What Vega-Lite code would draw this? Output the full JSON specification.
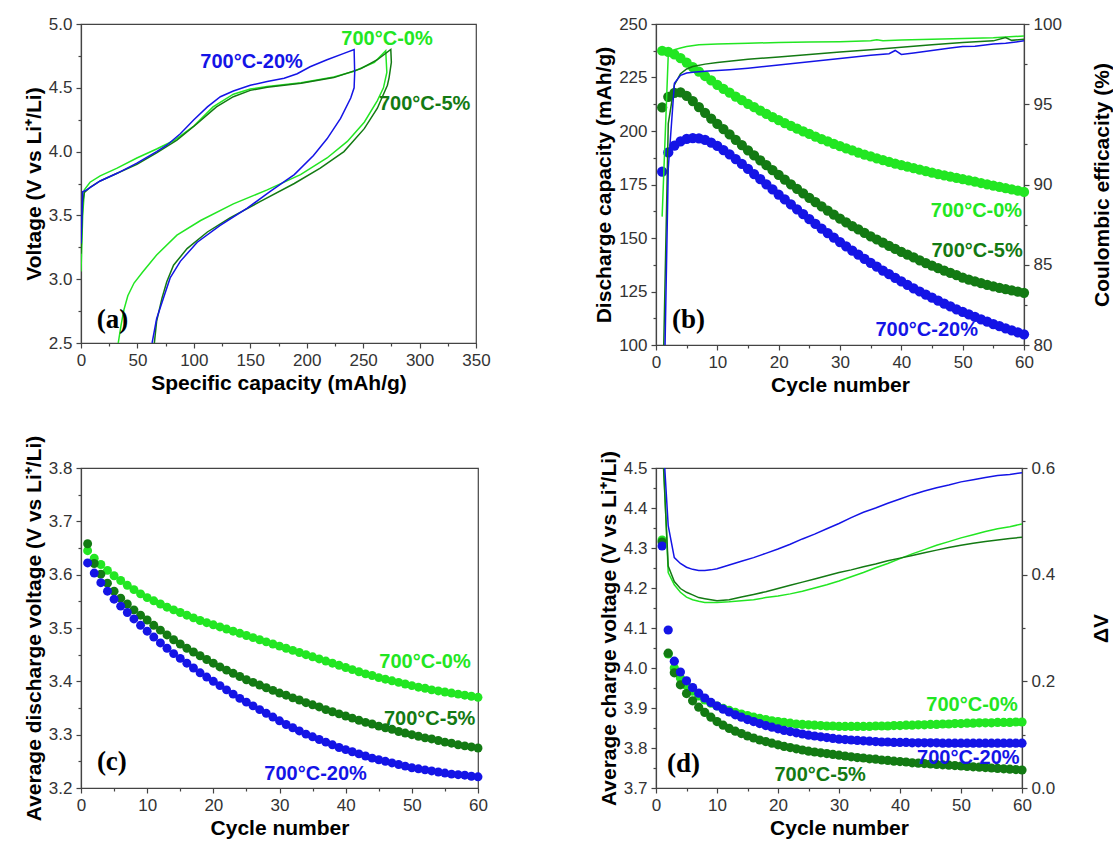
{
"$schema": "https://vega.github.io/schema/vega-lite/v6.json",
"padding": {"left": 22, "top": 14, "right": 0, "bottom": 0},
"background": "white",
"config": {
 "font": "Liberation Sans",
 "view": {"stroke": "#444", "strokeWidth": 1.2},
 "axis": {"grid": false, "domainColor": "#444", "domainWidth": 1.2, "tickColor": "#444", "tickWidth": 1.2, "tickSize": 5, "labelFont": "Liberation Sans", "labelFontSize": 17, "labelColor": "#333", "labelPadding": 4, "labelFlush": false, "labelOverlap": false, "labelBound": false, "titleFont": "Liberation Sans", "titleFontSize": 21, "titleFontWeight": "bold", "titleColor": "#000", "titlePadding": 4},
 "text": {"font": "Liberation Sans", "fontWeight": "bold", "fontSize": 20}
},
"datasets": {
 "a": [
  {"s":"0","i":0,"cap":0,"v":3.06},{"s":"0","i":1,"cap":1.5,"v":3.5},{"s":"0","i":2,"cap":3,"v":3.70},{"s":"0","i":3,"cap":8,"v":3.76},{"s":"0","i":4,"cap":17,"v":3.81},{"s":"0","i":5,"cap":32,"v":3.87},{"s":"0","i":6,"cap":49.5,"v":3.95},{"s":"0","i":7,"cap":67,"v":4.02},{"s":"0","i":8,"cap":82,"v":4.085},{"s":"0","i":9,"cap":100,"v":4.20},{"s":"0","i":10,"cap":117,"v":4.35},{"s":"0","i":11,"cap":135,"v":4.45},{"s":"0","i":12,"cap":150,"v":4.49},{"s":"0","i":13,"cap":165,"v":4.51},{"s":"0","i":14,"cap":195,"v":4.54},{"s":"0","i":15,"cap":224,"v":4.585},{"s":"0","i":16,"cap":242,"v":4.63},{"s":"0","i":17,"cap":260,"v":4.70},{"s":"0","i":18,"cap":270,"v":4.79},
  {"s":"0","i":19,"cap":271,"v":4.62},{"s":"0","i":20,"cap":268,"v":4.50},{"s":"0","i":21,"cap":262.6,"v":4.40},{"s":"0","i":22,"cap":251,"v":4.23},{"s":"0","i":23,"cap":236,"v":4.08},{"s":"0","i":24,"cap":218,"v":3.95},{"s":"0","i":25,"cap":194.5,"v":3.82},{"s":"0","i":26,"cap":165,"v":3.70},{"s":"0","i":27,"cap":135,"v":3.59},{"s":"0","i":28,"cap":106,"v":3.46},{"s":"0","i":29,"cap":85,"v":3.345},{"s":"0","i":30,"cap":67,"v":3.19},{"s":"0","i":31,"cap":55,"v":3.06},{"s":"0","i":32,"cap":47,"v":2.97},{"s":"0","i":33,"cap":41.5,"v":2.87},{"s":"0","i":34,"cap":38,"v":2.76},{"s":"0","i":35,"cap":35.5,"v":2.64},{"s":"0","i":36,"cap":33,"v":2.5},
  {"s":"5","i":0,"cap":0,"v":3.2},{"s":"5","i":1,"cap":1.5,"v":3.6},{"s":"5","i":2,"cap":3,"v":3.68},{"s":"5","i":3,"cap":8,"v":3.72},{"s":"5","i":4,"cap":17,"v":3.77},{"s":"5","i":5,"cap":32,"v":3.83},{"s":"5","i":6,"cap":49.5,"v":3.90},{"s":"5","i":7,"cap":67,"v":3.99},{"s":"5","i":8,"cap":85,"v":4.09},{"s":"5","i":9,"cap":103,"v":4.22},{"s":"5","i":10,"cap":120,"v":4.35},{"s":"5","i":11,"cap":135,"v":4.43},{"s":"5","i":12,"cap":150,"v":4.48},{"s":"5","i":13,"cap":165,"v":4.505},{"s":"5","i":14,"cap":195,"v":4.535},{"s":"5","i":15,"cap":224,"v":4.58},{"s":"5","i":16,"cap":248,"v":4.65},{"s":"5","i":17,"cap":262.6,"v":4.72},{"s":"5","i":18,"cap":274.5,"v":4.80},
  {"s":"5","i":19,"cap":275,"v":4.70},{"s":"5","i":20,"cap":273,"v":4.58},{"s":"5","i":21,"cap":271.5,"v":4.52},{"s":"5","i":22,"cap":262.6,"v":4.34},{"s":"5","i":23,"cap":251,"v":4.18},{"s":"5","i":24,"cap":233,"v":4.0},{"s":"5","i":25,"cap":212,"v":3.87},{"s":"5","i":26,"cap":189,"v":3.75},{"s":"5","i":27,"cap":159,"v":3.61},{"s":"5","i":28,"cap":132,"v":3.48},{"s":"5","i":29,"cap":112,"v":3.37},{"s":"5","i":30,"cap":94,"v":3.24},{"s":"5","i":31,"cap":82,"v":3.11},{"s":"5","i":32,"cap":76,"v":2.98},{"s":"5","i":33,"cap":71.7,"v":2.85},{"s":"5","i":34,"cap":67,"v":2.67},{"s":"5","i":35,"cap":65,"v":2.5},
  {"s":"20","i":0,"cap":0,"v":3.28},{"s":"20","i":1,"cap":1.5,"v":3.685},{"s":"20","i":2,"cap":5,"v":3.70},{"s":"20","i":3,"cap":17,"v":3.77},{"s":"20","i":4,"cap":32,"v":3.83},{"s":"20","i":5,"cap":49.5,"v":3.91},{"s":"20","i":6,"cap":67,"v":4.0},{"s":"20","i":7,"cap":76,"v":4.05},{"s":"20","i":8,"cap":88,"v":4.14},{"s":"20","i":9,"cap":100,"v":4.25},{"s":"20","i":10,"cap":112,"v":4.35},{"s":"20","i":11,"cap":123.5,"v":4.43},{"s":"20","i":12,"cap":135,"v":4.475},{"s":"20","i":13,"cap":150,"v":4.52},{"s":"20","i":14,"cap":165,"v":4.55},{"s":"20","i":15,"cap":180,"v":4.575},{"s":"20","i":16,"cap":191.6,"v":4.61},{"s":"20","i":17,"cap":203,"v":4.665},{"s":"20","i":18,"cap":218,"v":4.72},{"s":"20","i":19,"cap":233,"v":4.77},{"s":"20","i":20,"cap":242,"v":4.80},
  {"s":"20","i":21,"cap":242.5,"v":4.62},{"s":"20","i":22,"cap":242,"v":4.50},{"s":"20","i":23,"cap":239,"v":4.42},{"s":"20","i":24,"cap":230,"v":4.26},{"s":"20","i":25,"cap":218,"v":4.10},{"s":"20","i":26,"cap":206,"v":3.97},{"s":"20","i":27,"cap":189,"v":3.82},{"s":"20","i":28,"cap":168,"v":3.69},{"s":"20","i":29,"cap":147,"v":3.555},{"s":"20","i":30,"cap":123,"v":3.42},{"s":"20","i":31,"cap":103,"v":3.29},{"s":"20","i":32,"cap":88,"v":3.14},{"s":"20","i":33,"cap":79,"v":3.01},{"s":"20","i":34,"cap":73,"v":2.85},{"s":"20","i":35,"cap":67,"v":2.69},{"s":"20","i":36,"cap":63,"v":2.5}
 ],
 "annA": [{"s":"20","t":"700°C-20%","cap":105.7,"v":4.70},{"s":"0","t":"700°C-0%","cap":230.7,"v":4.88},{"s":"5","t":"700°C-5%","cap":264,"v":4.37}],
 "letA": [{"t":"(a)","cap":14,"v":2.68}],
 "b": [
  {"s":"0","c":1,"cap":237.5},{"s":"0","c":2,"cap":237},{"s":"0","c":3,"cap":235.8},{"s":"0","c":4,"cap":234},{"s":"0","c":5,"cap":232},{"s":"0","c":6,"cap":229.9},{"s":"0","c":7,"cap":227.8},{"s":"0","c":8,"cap":225.7},{"s":"0","c":9,"cap":223.6},{"s":"0","c":10,"cap":221.6},
  {"s":"0","c":11,"cap":219.7},{"s":"0","c":12,"cap":217.9},{"s":"0","c":13,"cap":216.1},{"s":"0","c":14,"cap":214.4},{"s":"0","c":15,"cap":212.7},{"s":"0","c":16,"cap":211.1},{"s":"0","c":17,"cap":209.5},{"s":"0","c":18,"cap":208},{"s":"0","c":19,"cap":206.5},{"s":"0","c":20,"cap":205.1},
  {"s":"0","c":21,"cap":203.7},{"s":"0","c":22,"cap":202.4},{"s":"0","c":23,"cap":201.1},{"s":"0","c":24,"cap":199.8},{"s":"0","c":25,"cap":198.6},{"s":"0","c":26,"cap":197.4},{"s":"0","c":27,"cap":196.2},{"s":"0","c":28,"cap":195.1},{"s":"0","c":29,"cap":194},{"s":"0","c":30,"cap":192.9},
  {"s":"0","c":31,"cap":191.9},{"s":"0","c":32,"cap":190.9},{"s":"0","c":33,"cap":189.9},{"s":"0","c":34,"cap":189},{"s":"0","c":35,"cap":188.1},{"s":"0","c":36,"cap":187.2},{"s":"0","c":37,"cap":186.4},{"s":"0","c":38,"cap":185.6},{"s":"0","c":39,"cap":184.8},{"s":"0","c":40,"cap":184},
  {"s":"0","c":41,"cap":183.3},{"s":"0","c":42,"cap":182.6},{"s":"0","c":43,"cap":181.9},{"s":"0","c":44,"cap":181.2},{"s":"0","c":45,"cap":180.5},{"s":"0","c":46,"cap":179.9},{"s":"0","c":47,"cap":179.3},{"s":"0","c":48,"cap":178.7},{"s":"0","c":49,"cap":178.1},{"s":"0","c":50,"cap":177.5},
  {"s":"0","c":51,"cap":176.9},{"s":"0","c":52,"cap":176.3},{"s":"0","c":53,"cap":175.7},{"s":"0","c":54,"cap":175.1},{"s":"0","c":55,"cap":174.5},{"s":"0","c":56,"cap":173.9},{"s":"0","c":57,"cap":173.3},{"s":"0","c":58,"cap":172.7},{"s":"0","c":59,"cap":172.1},{"s":"0","c":60,"cap":171.5},
  {"s":"5","c":1,"cap":211},{"s":"5","c":2,"cap":216},{"s":"5","c":3,"cap":217.8},{"s":"5","c":4,"cap":218},{"s":"5","c":5,"cap":216.4},{"s":"5","c":6,"cap":214},{"s":"5","c":7,"cap":211.2},{"s":"5","c":8,"cap":208.5},{"s":"5","c":9,"cap":205.8},{"s":"5","c":10,"cap":203.3},
  {"s":"5","c":11,"cap":200.9},{"s":"5","c":12,"cap":198.4},{"s":"5","c":13,"cap":195.9},{"s":"5","c":14,"cap":193.4},{"s":"5","c":15,"cap":191},{"s":"5","c":16,"cap":188.6},{"s":"5","c":17,"cap":186.3},{"s":"5","c":18,"cap":184},{"s":"5","c":19,"cap":181.7},{"s":"5","c":20,"cap":179.5},
  {"s":"5","c":21,"cap":177.3},{"s":"5","c":22,"cap":175.1},{"s":"5","c":23,"cap":173},{"s":"5","c":24,"cap":170.9},{"s":"5","c":25,"cap":168.8},{"s":"5","c":26,"cap":166.8},{"s":"5","c":27,"cap":164.8},{"s":"5","c":28,"cap":162.8},{"s":"5","c":29,"cap":160.9},{"s":"5","c":30,"cap":159},
  {"s":"5","c":31,"cap":157.3},{"s":"5","c":32,"cap":155.6},{"s":"5","c":33,"cap":154},{"s":"5","c":34,"cap":152.4},{"s":"5","c":35,"cap":150.8},{"s":"5","c":36,"cap":149.3},{"s":"5","c":37,"cap":147.8},{"s":"5","c":38,"cap":146.3},{"s":"5","c":39,"cap":144.9},{"s":"5","c":40,"cap":143.5},
  {"s":"5","c":41,"cap":142.2},{"s":"5","c":42,"cap":140.9},{"s":"5","c":43,"cap":139.6},{"s":"5","c":44,"cap":138.3},{"s":"5","c":45,"cap":137.1},{"s":"5","c":46,"cap":135.9},{"s":"5","c":47,"cap":134.8},{"s":"5","c":48,"cap":133.7},{"s":"5","c":49,"cap":132.6},{"s":"5","c":50,"cap":131.5},
  {"s":"5","c":51,"cap":130.6},{"s":"5","c":52,"cap":129.7},{"s":"5","c":53,"cap":128.9},{"s":"5","c":54,"cap":128.1},{"s":"5","c":55,"cap":127.4},{"s":"5","c":56,"cap":126.7},{"s":"5","c":57,"cap":126.1},{"s":"5","c":58,"cap":125.5},{"s":"5","c":59,"cap":124.9},{"s":"5","c":60,"cap":124.4},
  {"s":"20","c":1,"cap":181},{"s":"20","c":2,"cap":190},{"s":"20","c":3,"cap":193.2},{"s":"20","c":4,"cap":195.2},{"s":"20","c":5,"cap":196.3},{"s":"20","c":6,"cap":196.7},{"s":"20","c":7,"cap":196.5},{"s":"20","c":8,"cap":195.8},{"s":"20","c":9,"cap":194.6},{"s":"20","c":10,"cap":193},
  {"s":"20","c":11,"cap":191.1},{"s":"20","c":12,"cap":189.1},{"s":"20","c":13,"cap":186.9},{"s":"20","c":14,"cap":184.6},{"s":"20","c":15,"cap":182.3},{"s":"20","c":16,"cap":179.9},{"s":"20","c":17,"cap":177.5},{"s":"20","c":18,"cap":175.1},{"s":"20","c":19,"cap":172.7},{"s":"20","c":20,"cap":170.3},
  {"s":"20","c":21,"cap":168},{"s":"20","c":22,"cap":165.7},{"s":"20","c":23,"cap":163.4},{"s":"20","c":24,"cap":161.1},{"s":"20","c":25,"cap":158.8},{"s":"20","c":26,"cap":156.6},{"s":"20","c":27,"cap":154.4},{"s":"20","c":28,"cap":152.3},{"s":"20","c":29,"cap":150.2},{"s":"20","c":30,"cap":148.1},
  {"s":"20","c":31,"cap":146.1},{"s":"20","c":32,"cap":144.1},{"s":"20","c":33,"cap":142.2},{"s":"20","c":34,"cap":140.3},{"s":"20","c":35,"cap":138.4},{"s":"20","c":36,"cap":136.6},{"s":"20","c":37,"cap":134.8},{"s":"20","c":38,"cap":133.1},{"s":"20","c":39,"cap":131.4},{"s":"20","c":40,"cap":129.7},
  {"s":"20","c":41,"cap":128.1},{"s":"20","c":42,"cap":126.5},{"s":"20","c":43,"cap":125},{"s":"20","c":44,"cap":123.5},{"s":"20","c":45,"cap":122.1},{"s":"20","c":46,"cap":120.7},{"s":"20","c":47,"cap":119.3},{"s":"20","c":48,"cap":118},{"s":"20","c":49,"cap":116.7},{"s":"20","c":50,"cap":115.5},
  {"s":"20","c":51,"cap":114.3},{"s":"20","c":52,"cap":113.1},{"s":"20","c":53,"cap":112},{"s":"20","c":54,"cap":110.9},{"s":"20","c":55,"cap":109.8},{"s":"20","c":56,"cap":108.8},{"s":"20","c":57,"cap":107.8},{"s":"20","c":58,"cap":106.8},{"s":"20","c":59,"cap":105.9},{"s":"20","c":60,"cap":105}
 ],
 "bce": [
  {"s":"0","c":1,"ce":88.0},{"s":"0","c":2,"ce":98.1},{"s":"0","c":3,"ce":98.4},{"s":"0","c":4,"ce":98.5},{"s":"0","c":5,"ce":98.6},{"s":"0","c":7,"ce":98.7},{"s":"0","c":10,"ce":98.75},{"s":"0","c":15,"ce":98.8},{"s":"0","c":20,"ce":98.85},{"s":"0","c":25,"ce":98.88},{"s":"0","c":30,"ce":98.9},{"s":"0","c":35,"ce":98.95},{"s":"0","c":36,"ce":99.02},{"s":"0","c":37,"ce":98.96},{"s":"0","c":40,"ce":99.0},{"s":"0","c":45,"ce":99.05},{"s":"0","c":50,"ce":99.1},{"s":"0","c":55,"ce":99.15},{"s":"0","c":60,"ce":99.25},
  {"s":"5","c":1,"ce":75},{"s":"5","c":2,"ce":93.8},{"s":"5","c":3,"ce":96.2},{"s":"5","c":4,"ce":96.9},{"s":"5","c":5,"ce":97.2},{"s":"5","c":6,"ce":97.35},{"s":"5","c":8,"ce":97.5},{"s":"5","c":10,"ce":97.6},{"s":"5","c":15,"ce":97.8},{"s":"5","c":20,"ce":97.95},{"s":"5","c":25,"ce":98.1},{"s":"5","c":30,"ce":98.25},{"s":"5","c":35,"ce":98.4},{"s":"5","c":40,"ce":98.55},{"s":"5","c":45,"ce":98.7},{"s":"5","c":50,"ce":98.85},{"s":"5","c":55,"ce":98.95},{"s":"5","c":57,"ce":99.15},{"s":"5","c":58,"ce":98.98},{"s":"5","c":60,"ce":99.05},
  {"s":"20","c":1,"ce":70},{"s":"20","c":2,"ce":91},{"s":"20","c":3,"ce":96.3},{"s":"20","c":4,"ce":96.8},{"s":"20","c":5,"ce":96.95},{"s":"20","c":6,"ce":97.0},{"s":"20","c":8,"ce":97.05},{"s":"20","c":10,"ce":97.1},{"s":"20","c":12,"ce":97.15},{"s":"20","c":15,"ce":97.25},{"s":"20","c":20,"ce":97.45},{"s":"20","c":25,"ce":97.65},{"s":"20","c":30,"ce":97.85},{"s":"20","c":35,"ce":98.05},{"s":"20","c":38,"ce":98.15},{"s":"20","c":39,"ce":98.35},{"s":"20","c":40,"ce":98.1},{"s":"20","c":42,"ce":98.2},{"s":"20","c":45,"ce":98.35},{"s":"20","c":48,"ce":98.5},{"s":"20","c":50,"ce":98.6},{"s":"20","c":52,"ce":98.62},{"s":"20","c":55,"ce":98.75},{"s":"20","c":57,"ce":98.8},{"s":"20","c":60,"ce":98.95}
 ],
 "annB": [{"s":"0","t":"700°C-0%","c":59.7,"cap":162.4},{"s":"5","t":"700°C-5%","c":59.8,"cap":143.7},{"s":"20","t":"700°C-20%","c":52.5,"cap":107}],
 "letB": [{"t":"(b)","c":2.6,"cap":111.7}],
 "c": [
  {"s":"0","c":1,"v":3.645},{"s":"0","c":2,"v":3.631},{"s":"0","c":3,"v":3.619},{"s":"0","c":4,"v":3.608},{"s":"0","c":5,"v":3.598},{"s":"0","c":6,"v":3.589},{"s":"0","c":7,"v":3.58},{"s":"0","c":8,"v":3.572},{"s":"0","c":9,"v":3.564},{"s":"0","c":10,"v":3.557},
  {"s":"0","c":11,"v":3.551},{"s":"0","c":12,"v":3.545},{"s":"0","c":13,"v":3.539},{"s":"0","c":14,"v":3.534},{"s":"0","c":15,"v":3.529},{"s":"0","c":16,"v":3.524},{"s":"0","c":17,"v":3.519},{"s":"0","c":18,"v":3.514},{"s":"0","c":19,"v":3.51},{"s":"0","c":20,"v":3.506},
  {"s":"0","c":21,"v":3.502},{"s":"0","c":22,"v":3.498},{"s":"0","c":23,"v":3.494},{"s":"0","c":24,"v":3.49},{"s":"0","c":25,"v":3.486},{"s":"0","c":26,"v":3.482},{"s":"0","c":27,"v":3.478},{"s":"0","c":28,"v":3.474},{"s":"0","c":29,"v":3.47},{"s":"0","c":30,"v":3.466},
  {"s":"0","c":31,"v":3.462},{"s":"0","c":32,"v":3.458},{"s":"0","c":33,"v":3.454},{"s":"0","c":34,"v":3.45},{"s":"0","c":35,"v":3.446},{"s":"0","c":36,"v":3.442},{"s":"0","c":37,"v":3.438},{"s":"0","c":38,"v":3.434},{"s":"0","c":39,"v":3.43},{"s":"0","c":40,"v":3.426},
  {"s":"0","c":41,"v":3.422},{"s":"0","c":42,"v":3.418},{"s":"0","c":43,"v":3.414},{"s":"0","c":44,"v":3.411},{"s":"0","c":45,"v":3.407},{"s":"0","c":46,"v":3.404},{"s":"0","c":47,"v":3.401},{"s":"0","c":48,"v":3.398},{"s":"0","c":49,"v":3.395},{"s":"0","c":50,"v":3.392},
  {"s":"0","c":51,"v":3.389},{"s":"0","c":52,"v":3.387},{"s":"0","c":53,"v":3.384},{"s":"0","c":54,"v":3.382},{"s":"0","c":55,"v":3.38},{"s":"0","c":56,"v":3.378},{"s":"0","c":57,"v":3.376},{"s":"0","c":58,"v":3.374},{"s":"0","c":59,"v":3.372},{"s":"0","c":60,"v":3.37},
  {"s":"5","c":1,"v":3.658},{"s":"5","c":2,"v":3.621},{"s":"5","c":3,"v":3.601},{"s":"5","c":4,"v":3.584},{"s":"5","c":5,"v":3.569},{"s":"5","c":6,"v":3.556},{"s":"5","c":7,"v":3.545},{"s":"5","c":8,"v":3.534},{"s":"5","c":9,"v":3.524},{"s":"5","c":10,"v":3.515},
  {"s":"5","c":11,"v":3.505},{"s":"5","c":12,"v":3.496},{"s":"5","c":13,"v":3.487},{"s":"5","c":14,"v":3.478},{"s":"5","c":15,"v":3.47},{"s":"5","c":16,"v":3.462},{"s":"5","c":17,"v":3.455},{"s":"5","c":18,"v":3.448},{"s":"5","c":19,"v":3.441},{"s":"5","c":20,"v":3.434},
  {"s":"5","c":21,"v":3.427},{"s":"5","c":22,"v":3.421},{"s":"5","c":23,"v":3.415},{"s":"5","c":24,"v":3.409},{"s":"5","c":25,"v":3.403},{"s":"5","c":26,"v":3.398},{"s":"5","c":27,"v":3.393},{"s":"5","c":28,"v":3.388},{"s":"5","c":29,"v":3.383},{"s":"5","c":30,"v":3.378},
  {"s":"5","c":31,"v":3.374},{"s":"5","c":32,"v":3.369},{"s":"5","c":33,"v":3.365},{"s":"5","c":34,"v":3.36},{"s":"5","c":35,"v":3.356},{"s":"5","c":36,"v":3.352},{"s":"5","c":37,"v":3.347},{"s":"5","c":38,"v":3.343},{"s":"5","c":39,"v":3.339},{"s":"5","c":40,"v":3.335},
  {"s":"5","c":41,"v":3.331},{"s":"5","c":42,"v":3.327},{"s":"5","c":43,"v":3.323},{"s":"5","c":44,"v":3.32},{"s":"5","c":45,"v":3.316},{"s":"5","c":46,"v":3.313},{"s":"5","c":47,"v":3.31},{"s":"5","c":48,"v":3.306},{"s":"5","c":49,"v":3.303},{"s":"5","c":50,"v":3.3},
  {"s":"5","c":51,"v":3.297},{"s":"5","c":52,"v":3.294},{"s":"5","c":53,"v":3.292},{"s":"5","c":54,"v":3.289},{"s":"5","c":55,"v":3.286},{"s":"5","c":56,"v":3.284},{"s":"5","c":57,"v":3.281},{"s":"5","c":58,"v":3.279},{"s":"5","c":59,"v":3.277},{"s":"5","c":60,"v":3.275},
  {"s":"20","c":1,"v":3.622},{"s":"20","c":2,"v":3.603},{"s":"20","c":3,"v":3.585},{"s":"20","c":4,"v":3.569},{"s":"20","c":5,"v":3.554},{"s":"20","c":6,"v":3.541},{"s":"20","c":7,"v":3.529},{"s":"20","c":8,"v":3.517},{"s":"20","c":9,"v":3.505},{"s":"20","c":10,"v":3.494},
  {"s":"20","c":11,"v":3.483},{"s":"20","c":12,"v":3.472},{"s":"20","c":13,"v":3.462},{"s":"20","c":14,"v":3.452},{"s":"20","c":15,"v":3.443},{"s":"20","c":16,"v":3.434},{"s":"20","c":17,"v":3.425},{"s":"20","c":18,"v":3.416},{"s":"20","c":19,"v":3.408},{"s":"20","c":20,"v":3.4},
  {"s":"20","c":21,"v":3.392},{"s":"20","c":22,"v":3.384},{"s":"20","c":23,"v":3.376},{"s":"20","c":24,"v":3.368},{"s":"20","c":25,"v":3.361},{"s":"20","c":26,"v":3.354},{"s":"20","c":27,"v":3.347},{"s":"20","c":28,"v":3.34},{"s":"20","c":29,"v":3.333},{"s":"20","c":30,"v":3.326},
  {"s":"20","c":31,"v":3.319},{"s":"20","c":32,"v":3.313},{"s":"20","c":33,"v":3.307},{"s":"20","c":34,"v":3.301},{"s":"20","c":35,"v":3.296},{"s":"20","c":36,"v":3.291},{"s":"20","c":37,"v":3.286},{"s":"20","c":38,"v":3.281},{"s":"20","c":39,"v":3.276},{"s":"20","c":40,"v":3.272},
  {"s":"20","c":41,"v":3.268},{"s":"20","c":42,"v":3.264},{"s":"20","c":43,"v":3.26},{"s":"20","c":44,"v":3.256},{"s":"20","c":45,"v":3.253},{"s":"20","c":46,"v":3.25},{"s":"20","c":47,"v":3.247},{"s":"20","c":48,"v":3.244},{"s":"20","c":49,"v":3.241},{"s":"20","c":50,"v":3.238},
  {"s":"20","c":51,"v":3.236},{"s":"20","c":52,"v":3.234},{"s":"20","c":53,"v":3.232},{"s":"20","c":54,"v":3.23},{"s":"20","c":55,"v":3.228},{"s":"20","c":56,"v":3.226},{"s":"20","c":57,"v":3.225},{"s":"20","c":58,"v":3.224},{"s":"20","c":59,"v":3.222},{"s":"20","c":60,"v":3.221}
 ],
 "annC": [{"s":"0","t":"700°C-0%","c":58.9,"v":3.437},{"s":"5","t":"700°C-5%","c":59.6,"v":3.33},{"s":"20","t":"700°C-20%","c":43.2,"v":3.226}],
 "letC": [{"t":"(c)","c":2.4,"v":3.248}],
 "d": [
  {"s":"0","c":1,"v":4.32},{"s":"0","c":2,"v":4.035},{"s":"0","c":3,"v":4.0},{"s":"0","c":4,"v":3.975},{"s":"0","c":5,"v":3.956},{"s":"0","c":6,"v":3.942},{"s":"0","c":7,"v":3.93},{"s":"0","c":8,"v":3.92},{"s":"0","c":9,"v":3.912},{"s":"0","c":10,"v":3.905},
  {"s":"0","c":11,"v":3.899},{"s":"0","c":12,"v":3.894},{"s":"0","c":13,"v":3.889},{"s":"0","c":14,"v":3.885},{"s":"0","c":15,"v":3.881},{"s":"0","c":16,"v":3.877},{"s":"0","c":17,"v":3.874},{"s":"0","c":18,"v":3.871},{"s":"0","c":19,"v":3.868},{"s":"0","c":20,"v":3.866},
  {"s":"0","c":21,"v":3.864},{"s":"0","c":22,"v":3.862},{"s":"0","c":23,"v":3.86},{"s":"0","c":24,"v":3.859},{"s":"0","c":25,"v":3.858},{"s":"0","c":26,"v":3.857},{"s":"0","c":27,"v":3.856},{"s":"0","c":28,"v":3.855},{"s":"0","c":29,"v":3.855},{"s":"0","c":30,"v":3.854},
  {"s":"0","c":31,"v":3.854},{"s":"0","c":32,"v":3.854},{"s":"0","c":33,"v":3.854},{"s":"0","c":34,"v":3.854},{"s":"0","c":35,"v":3.854},{"s":"0","c":36,"v":3.855},{"s":"0","c":37,"v":3.855},{"s":"0","c":38,"v":3.855},{"s":"0","c":39,"v":3.856},{"s":"0","c":40,"v":3.856},
  {"s":"0","c":41,"v":3.857},{"s":"0","c":42,"v":3.857},{"s":"0","c":43,"v":3.858},{"s":"0","c":44,"v":3.858},{"s":"0","c":45,"v":3.859},{"s":"0","c":46,"v":3.859},{"s":"0","c":47,"v":3.86},{"s":"0","c":48,"v":3.86},{"s":"0","c":49,"v":3.861},{"s":"0","c":50,"v":3.861},
  {"s":"0","c":51,"v":3.862},{"s":"0","c":52,"v":3.862},{"s":"0","c":53,"v":3.863},{"s":"0","c":54,"v":3.863},{"s":"0","c":55,"v":3.863},{"s":"0","c":56,"v":3.864},{"s":"0","c":57,"v":3.864},{"s":"0","c":58,"v":3.864},{"s":"0","c":59,"v":3.865},{"s":"0","c":60,"v":3.865},
  {"s":"5","c":1,"v":4.315},{"s":"5","c":2,"v":4.037},{"s":"5","c":3,"v":3.988},{"s":"5","c":4,"v":3.958},{"s":"5","c":5,"v":3.936},{"s":"5","c":6,"v":3.918},{"s":"5","c":7,"v":3.902},{"s":"5","c":8,"v":3.889},{"s":"5","c":9,"v":3.877},{"s":"5","c":10,"v":3.866},
  {"s":"5","c":11,"v":3.857},{"s":"5","c":12,"v":3.849},{"s":"5","c":13,"v":3.842},{"s":"5","c":14,"v":3.836},{"s":"5","c":15,"v":3.83},{"s":"5","c":16,"v":3.825},{"s":"5","c":17,"v":3.82},{"s":"5","c":18,"v":3.816},{"s":"5","c":19,"v":3.812},{"s":"5","c":20,"v":3.808},
  {"s":"5","c":21,"v":3.804},{"s":"5","c":22,"v":3.801},{"s":"5","c":23,"v":3.798},{"s":"5","c":24,"v":3.795},{"s":"5","c":25,"v":3.792},{"s":"5","c":26,"v":3.79},{"s":"5","c":27,"v":3.788},{"s":"5","c":28,"v":3.786},{"s":"5","c":29,"v":3.784},{"s":"5","c":30,"v":3.782},
  {"s":"5","c":31,"v":3.78},{"s":"5","c":32,"v":3.778},{"s":"5","c":33,"v":3.776},{"s":"5","c":34,"v":3.775},{"s":"5","c":35,"v":3.773},{"s":"5","c":36,"v":3.772},{"s":"5","c":37,"v":3.77},{"s":"5","c":38,"v":3.769},{"s":"5","c":39,"v":3.767},{"s":"5","c":40,"v":3.766},
  {"s":"5","c":41,"v":3.765},{"s":"5","c":42,"v":3.763},{"s":"5","c":43,"v":3.762},{"s":"5","c":44,"v":3.761},{"s":"5","c":45,"v":3.76},{"s":"5","c":46,"v":3.759},{"s":"5","c":47,"v":3.758},{"s":"5","c":48,"v":3.757},{"s":"5","c":49,"v":3.756},{"s":"5","c":50,"v":3.755},
  {"s":"5","c":51,"v":3.754},{"s":"5","c":52,"v":3.753},{"s":"5","c":53,"v":3.752},{"s":"5","c":54,"v":3.751},{"s":"5","c":55,"v":3.75},{"s":"5","c":56,"v":3.749},{"s":"5","c":57,"v":3.748},{"s":"5","c":58,"v":3.747},{"s":"5","c":59,"v":3.746},{"s":"5","c":60,"v":3.745},
  {"s":"20","c":1,"v":4.305},{"s":"20","c":2,"v":4.095},{"s":"20","c":3,"v":4.017},{"s":"20","c":4,"v":3.99},{"s":"20","c":5,"v":3.968},{"s":"20","c":6,"v":3.951},{"s":"20","c":7,"v":3.937},{"s":"20","c":8,"v":3.925},{"s":"20","c":9,"v":3.914},{"s":"20","c":10,"v":3.905},
  {"s":"20","c":11,"v":3.897},{"s":"20","c":12,"v":3.89},{"s":"20","c":13,"v":3.883},{"s":"20","c":14,"v":3.877},{"s":"20","c":15,"v":3.871},{"s":"20","c":16,"v":3.866},{"s":"20","c":17,"v":3.861},{"s":"20","c":18,"v":3.856},{"s":"20","c":19,"v":3.852},{"s":"20","c":20,"v":3.848},
  {"s":"20","c":21,"v":3.844},{"s":"20","c":22,"v":3.841},{"s":"20","c":23,"v":3.838},{"s":"20","c":24,"v":3.835},{"s":"20","c":25,"v":3.832},{"s":"20","c":26,"v":3.83},{"s":"20","c":27,"v":3.828},{"s":"20","c":28,"v":3.826},{"s":"20","c":29,"v":3.824},{"s":"20","c":30,"v":3.822},
  {"s":"20","c":31,"v":3.821},{"s":"20","c":32,"v":3.82},{"s":"20","c":33,"v":3.819},{"s":"20","c":34,"v":3.818},{"s":"20","c":35,"v":3.817},{"s":"20","c":36,"v":3.816},{"s":"20","c":37,"v":3.815},{"s":"20","c":38,"v":3.815},{"s":"20","c":39,"v":3.814},{"s":"20","c":40,"v":3.814},
  {"s":"20","c":41,"v":3.814},{"s":"20","c":42,"v":3.813},{"s":"20","c":43,"v":3.813},{"s":"20","c":44,"v":3.813},{"s":"20","c":45,"v":3.813},{"s":"20","c":46,"v":3.813},{"s":"20","c":47,"v":3.812},{"s":"20","c":48,"v":3.812},{"s":"20","c":49,"v":3.812},{"s":"20","c":50,"v":3.812},
  {"s":"20","c":51,"v":3.812},{"s":"20","c":52,"v":3.812},{"s":"20","c":53,"v":3.812},{"s":"20","c":54,"v":3.812},{"s":"20","c":55,"v":3.812},{"s":"20","c":56,"v":3.812},{"s":"20","c":57,"v":3.812},{"s":"20","c":58,"v":3.812},{"s":"20","c":59,"v":3.812},{"s":"20","c":60,"v":3.812}
 ],
 "ddv": [
  {"s":"0","c":1,"dv":0.675},{"s":"0","c":2,"dv":0.404},{"s":"0","c":3,"dv":0.381},{"s":"0","c":4,"dv":0.367},{"s":"0","c":5,"dv":0.358},{"s":"0","c":6,"dv":0.353},{"s":"0","c":7,"dv":0.35},{"s":"0","c":8,"dv":0.348},{"s":"0","c":9,"dv":0.348},{"s":"0","c":10,"dv":0.348},{"s":"0","c":12,"dv":0.349},{"s":"0","c":14,"dv":0.351},{"s":"0","c":16,"dv":0.353},{"s":"0","c":18,"dv":0.357},{"s":"0","c":20,"dv":0.36},{"s":"0","c":22,"dv":0.364},{"s":"0","c":24,"dv":0.369},{"s":"0","c":26,"dv":0.375},{"s":"0","c":28,"dv":0.381},{"s":"0","c":30,"dv":0.388},{"s":"0","c":32,"dv":0.396},{"s":"0","c":34,"dv":0.404},{"s":"0","c":36,"dv":0.413},{"s":"0","c":38,"dv":0.421},{"s":"0","c":40,"dv":0.43},{"s":"0","c":42,"dv":0.439},{"s":"0","c":44,"dv":0.447},{"s":"0","c":46,"dv":0.455},{"s":"0","c":48,"dv":0.462},{"s":"0","c":50,"dv":0.469},{"s":"0","c":52,"dv":0.475},{"s":"0","c":54,"dv":0.481},{"s":"0","c":56,"dv":0.486},{"s":"0","c":58,"dv":0.49},{"s":"0","c":60,"dv":0.495},
  {"s":"5","c":1,"dv":0.657},{"s":"5","c":2,"dv":0.416},{"s":"5","c":3,"dv":0.387},{"s":"5","c":4,"dv":0.374},{"s":"5","c":5,"dv":0.367},{"s":"5","c":6,"dv":0.362},{"s":"5","c":7,"dv":0.357},{"s":"5","c":8,"dv":0.355},{"s":"5","c":9,"dv":0.353},{"s":"5","c":10,"dv":0.351},{"s":"5","c":12,"dv":0.353},{"s":"5","c":14,"dv":0.358},{"s":"5","c":16,"dv":0.363},{"s":"5","c":18,"dv":0.368},{"s":"5","c":20,"dv":0.374},{"s":"5","c":22,"dv":0.38},{"s":"5","c":24,"dv":0.386},{"s":"5","c":26,"dv":0.392},{"s":"5","c":28,"dv":0.398},{"s":"5","c":30,"dv":0.404},{"s":"5","c":32,"dv":0.409},{"s":"5","c":34,"dv":0.415},{"s":"5","c":36,"dv":0.42},{"s":"5","c":38,"dv":0.426},{"s":"5","c":40,"dv":0.431},{"s":"5","c":42,"dv":0.436},{"s":"5","c":44,"dv":0.441},{"s":"5","c":46,"dv":0.446},{"s":"5","c":48,"dv":0.451},{"s":"5","c":50,"dv":0.455},{"s":"5","c":52,"dv":0.459},{"s":"5","c":54,"dv":0.462},{"s":"5","c":56,"dv":0.465},{"s":"5","c":58,"dv":0.468},{"s":"5","c":60,"dv":0.47},
  {"s":"20","c":1,"dv":0.683},{"s":"20","c":2,"dv":0.492},{"s":"20","c":3,"dv":0.432},{"s":"20","c":4,"dv":0.421},{"s":"20","c":5,"dv":0.414},{"s":"20","c":6,"dv":0.41},{"s":"20","c":7,"dv":0.408},{"s":"20","c":8,"dv":0.408},{"s":"20","c":9,"dv":0.409},{"s":"20","c":10,"dv":0.411},{"s":"20","c":12,"dv":0.418},{"s":"20","c":14,"dv":0.425},{"s":"20","c":16,"dv":0.432},{"s":"20","c":18,"dv":0.44},{"s":"20","c":20,"dv":0.448},{"s":"20","c":22,"dv":0.457},{"s":"20","c":24,"dv":0.467},{"s":"20","c":26,"dv":0.476},{"s":"20","c":28,"dv":0.486},{"s":"20","c":30,"dv":0.496},{"s":"20","c":32,"dv":0.507},{"s":"20","c":34,"dv":0.517},{"s":"20","c":36,"dv":0.525},{"s":"20","c":38,"dv":0.534},{"s":"20","c":40,"dv":0.542},{"s":"20","c":42,"dv":0.55},{"s":"20","c":44,"dv":0.557},{"s":"20","c":46,"dv":0.563},{"s":"20","c":48,"dv":0.568},{"s":"20","c":50,"dv":0.574},{"s":"20","c":52,"dv":0.578},{"s":"20","c":54,"dv":0.582},{"s":"20","c":56,"dv":0.586},{"s":"20","c":58,"dv":0.588},{"s":"20","c":60,"dv":0.591}
 ],
 "annD": [{"s":"0","t":"700°C-0%","c":59.3,"v":3.908},{"s":"20","t":"700°C-20%","c":59.6,"v":3.776},{"s":"5","t":"700°C-5%","c":34.4,"v":3.732}],
 "letD": [{"t":"(d)","c":1.8,"v":3.761}]
},
"columns": 2,
"spacing": {"row": 123, "column": 178},
"bounds": "flush",
"concat": [
 {
  "width": 395, "height": 319,
  "layer": [
   {"data": {"name": "a"}, "mark": {"type": "line", "strokeWidth": 1.5, "clip": true},
    "encoding": {
     "x": {"field": "cap", "type": "quantitative", "scale": {"domain": [0, 350], "nice": false, "zero": false},
       "axis": {"title": "Specific capacity (mAh/g)", "tickCount": 200, "format": "d", "labelOverlap": false, "values": [0,25,50,75,100,125,150,175,200,225,250,275,300,325,350], "labelExpr": "datum.value % 50 === 0 ? datum.label : ''", "labelFontSize": {"condition": {"test": "datum.value % 50 === 0", "value": 17}, "value": 1}, "tickSize": {"condition": {"test": "datum.value % 50 === 0", "value": 5}, "value": 3}}},
     "y": {"field": "v", "type": "quantitative", "scale": {"domain": [2.5, 5.0], "nice": false, "zero": false},
       "axis": {"title": "Voltage (V vs Li⁺/Li)", "tickCount": 200, "labelOverlap": false, "format": ".1f", "values": [2.5,2.75,3.0,3.25,3.5,3.75,4.0,4.25,4.5,4.75,5.0], "labelExpr": "abs(datum.value*2 - round(datum.value*2)) < 0.01 ? datum.label : ''", "labelFontSize": {"condition": {"test": "abs(datum.value*2 - round(datum.value*2)) < 0.01", "value": 17}, "value": 1}, "tickSize": {"condition": {"test": "abs(datum.value*2 - round(datum.value*2)) < 0.01", "value": 5}, "value": 3}}},
     "color": {"field": "s", "type": "nominal", "scale": {"domain": ["0","5","20"], "range": ["#22e622","#137a13","#1414e6"]}, "legend": null},
     "order": {"field": "i", "type": "quantitative"}
    }},
   {"data": {"name": "annA"}, "mark": {"type": "text", "align": "left", "baseline": "middle"},
    "encoding": {"x": {"field": "cap", "type": "quantitative"}, "y": {"field": "v", "type": "quantitative"}, "text": {"field": "t"}, "color": {"field": "s", "type": "nominal", "legend": null}}},
   {"data": {"name": "letA"}, "mark": {"type": "text", "align": "left", "baseline": "middle", "font": "Liberation Serif", "fontSize": 27, "fontWeight": "bold", "color": "#000"},
    "encoding": {"x": {"field": "cap", "type": "quantitative"}, "y": {"field": "v", "type": "quantitative"}, "text": {"field": "t"}}}
  ]
 },
 {
  "width": 368, "height": 321,
  "layer": [
   {"layer": [
     {"data": {"name": "b"}, "mark": {"type": "circle", "size": 105, "opacity": 1},
      "encoding": {
       "x": {"field": "c", "type": "quantitative", "scale": {"domain": [0, 60], "nice": false, "zero": false},
         "axis": {"title": "Cycle number", "tickCount": 200, "format": "d", "labelOverlap": false, "values": [0,5,10,15,20,25,30,35,40,45,50,55,60], "labelExpr": "datum.value % 10 === 0 ? datum.label : ''", "labelFontSize": {"condition": {"test": "datum.value % 10 === 0", "value": 17}, "value": 1}, "tickSize": {"condition": {"test": "datum.value % 10 === 0", "value": 5}, "value": 3}}},
       "y": {"field": "cap", "type": "quantitative", "scale": {"domain": [100, 250], "nice": false, "zero": false},
         "axis": {"title": "Discharge capacity (mAh/g)", "tickCount": 200, "format": "d", "labelOverlap": false, "values": [100,112.5,125,137.5,150,162.5,175,187.5,200,212.5,225,237.5,250], "labelExpr": "datum.value % 25 === 0 ? datum.label : ''", "labelFontSize": {"condition": {"test": "datum.value % 25 === 0", "value": 17}, "value": 1}, "tickSize": {"condition": {"test": "datum.value % 25 === 0", "value": 5}, "value": 3}}},
       "color": {"field": "s", "type": "nominal", "legend": null}
      }},
     {"data": {"name": "annB"}, "mark": {"type": "text", "align": "right", "baseline": "middle"},
      "encoding": {"x": {"field": "c", "type": "quantitative"}, "y": {"field": "cap", "type": "quantitative"}, "text": {"field": "t"}, "color": {"field": "s", "type": "nominal", "legend": null}}},
     {"data": {"name": "letB"}, "mark": {"type": "text", "align": "left", "baseline": "middle", "font": "Liberation Serif", "fontSize": 27, "fontWeight": "bold", "color": "#000"},
      "encoding": {"x": {"field": "c", "type": "quantitative"}, "y": {"field": "cap", "type": "quantitative"}, "text": {"field": "t"}}}
   ]},
   {"data": {"name": "bce"}, "mark": {"type": "line", "strokeWidth": 1.5, "clip": true},
    "encoding": {
     "x": {"field": "c", "type": "quantitative"},
     "y": {"field": "ce", "type": "quantitative", "scale": {"domain": [80, 100], "nice": false, "zero": false},
       "axis": {"orient": "right", "title": "Coulombic efficacity (%)", "tickCount": 200, "format": "d", "labelOverlap": false, "titleAngle": 270, "titleBaseline": "top", "titlePadding": 30, "values": [80,82.5,85,87.5,90,92.5,95,97.5,100], "labelExpr": "datum.value % 5 === 0 ? datum.label : ''", "labelFontSize": {"condition": {"test": "datum.value % 5 === 0", "value": 17}, "value": 1}, "tickSize": {"condition": {"test": "datum.value % 5 === 0", "value": 5}, "value": 3}}},
     "color": {"field": "s", "type": "nominal", "legend": null}
    }}
  ],
  "resolve": {"scale": {"y": "independent"}}
 },
 {
  "width": 397, "height": 320,
  "layer": [
   {"data": {"name": "c"}, "mark": {"type": "circle", "size": 80, "opacity": 1},
    "encoding": {
     "x": {"field": "c", "type": "quantitative", "scale": {"domain": [0, 60], "nice": false, "zero": false},
       "axis": {"title": "Cycle number", "tickCount": 200, "format": "d", "labelOverlap": false, "values": [0,5,10,15,20,25,30,35,40,45,50,55,60], "labelExpr": "datum.value % 10 === 0 ? datum.label : ''", "labelFontSize": {"condition": {"test": "datum.value % 10 === 0", "value": 17}, "value": 1}, "tickSize": {"condition": {"test": "datum.value % 10 === 0", "value": 5}, "value": 3}}},
     "y": {"field": "v", "type": "quantitative", "scale": {"domain": [3.2, 3.8], "nice": false, "zero": false},
       "axis": {"title": "Average discharge voltage (V vs Li⁺/Li)", "tickCount": 200, "labelOverlap": false, "format": ".1f", "values": [3.2,3.25,3.3,3.35,3.4,3.45,3.5,3.55,3.6,3.65,3.7,3.75,3.8], "labelExpr": "abs(datum.value*10 - round(datum.value*10)) < 0.01 ? datum.label : ''", "labelFontSize": {"condition": {"test": "abs(datum.value*10 - round(datum.value*10)) < 0.01", "value": 17}, "value": 1}, "tickSize": {"condition": {"test": "abs(datum.value*10 - round(datum.value*10)) < 0.01", "value": 5}, "value": 3}}},
     "color": {"field": "s", "type": "nominal", "legend": null}
    }},
   {"data": {"name": "annC"}, "mark": {"type": "text", "align": "right", "baseline": "middle"},
    "encoding": {"x": {"field": "c", "type": "quantitative"}, "y": {"field": "v", "type": "quantitative"}, "text": {"field": "t"}, "color": {"field": "s", "type": "nominal", "legend": null}}},
   {"data": {"name": "letC"}, "mark": {"type": "text", "align": "left", "baseline": "middle", "font": "Liberation Serif", "fontSize": 27, "fontWeight": "bold", "color": "#000"},
    "encoding": {"x": {"field": "c", "type": "quantitative"}, "y": {"field": "v", "type": "quantitative"}, "text": {"field": "t"}}}
  ]
 },
 {
  "width": 366, "height": 320,
  "layer": [
   {"layer": [
     {"data": {"name": "d"}, "mark": {"type": "circle", "size": 85, "opacity": 1},
      "encoding": {
       "x": {"field": "c", "type": "quantitative", "scale": {"domain": [0, 60], "nice": false, "zero": false},
         "axis": {"title": "Cycle number", "tickCount": 200, "format": "d", "labelOverlap": false, "values": [0,5,10,15,20,25,30,35,40,45,50,55,60], "labelExpr": "datum.value % 10 === 0 ? datum.label : ''", "labelFontSize": {"condition": {"test": "datum.value % 10 === 0", "value": 17}, "value": 1}, "tickSize": {"condition": {"test": "datum.value % 10 === 0", "value": 5}, "value": 3}}},
       "y": {"field": "v", "type": "quantitative", "scale": {"domain": [3.7, 4.5], "nice": false, "zero": false},
         "axis": {"title": "Average charge voltage (V vs Li⁺/Li)", "tickCount": 200, "labelOverlap": false, "format": ".1f", "values": [3.7,3.75,3.8,3.85,3.9,3.95,4.0,4.05,4.1,4.15,4.2,4.25,4.3,4.35,4.4,4.45,4.5], "labelExpr": "abs(datum.value*10 - round(datum.value*10)) < 0.01 ? datum.label : ''", "labelFontSize": {"condition": {"test": "abs(datum.value*10 - round(datum.value*10)) < 0.01", "value": 17}, "value": 1}, "tickSize": {"condition": {"test": "abs(datum.value*10 - round(datum.value*10)) < 0.01", "value": 5}, "value": 3}}},
       "color": {"field": "s", "type": "nominal", "legend": null}
      }},
     {"data": {"name": "annD"}, "mark": {"type": "text", "align": "right", "baseline": "middle"},
      "encoding": {"x": {"field": "c", "type": "quantitative"}, "y": {"field": "v", "type": "quantitative"}, "text": {"field": "t"}, "color": {"field": "s", "type": "nominal", "legend": null}}},
     {"data": {"name": "letD"}, "mark": {"type": "text", "align": "left", "baseline": "middle", "font": "Liberation Serif", "fontSize": 27, "fontWeight": "bold", "color": "#000"},
      "encoding": {"x": {"field": "c", "type": "quantitative"}, "y": {"field": "v", "type": "quantitative"}, "text": {"field": "t"}}}
   ]},
   {"data": {"name": "ddv"}, "mark": {"type": "line", "strokeWidth": 1.5, "clip": true},
    "encoding": {
     "x": {"field": "c", "type": "quantitative"},
     "y": {"field": "dv", "type": "quantitative", "scale": {"domain": [0, 0.6], "nice": false, "zero": false},
       "axis": {"orient": "right", "title": "ΔV", "tickCount": 200, "labelOverlap": false, "titleAngle": 270, "titleBaseline": "top", "titlePadding": 36, "format": ".1f", "values": [0,0.1,0.2,0.3,0.4,0.5,0.6], "labelExpr": "abs(datum.value*5 - round(datum.value*5)) < 0.01 ? datum.label : ''", "labelFontSize": {"condition": {"test": "abs(datum.value*5 - round(datum.value*5)) < 0.01", "value": 17}, "value": 1}, "tickSize": {"condition": {"test": "abs(datum.value*5 - round(datum.value*5)) < 0.01", "value": 5}, "value": 3}}},
     "color": {"field": "s", "type": "nominal", "legend": null}
    }}
  ],
  "resolve": {"scale": {"y": "independent"}}
 }
]
}
